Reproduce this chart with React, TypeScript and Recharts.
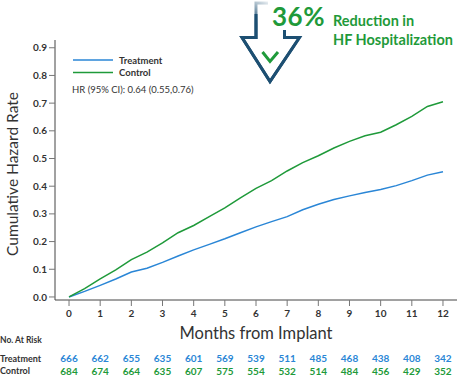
import React from 'react';
import { LineChart, Line, XAxis, YAxis } from 'recharts';

const months = [0, 0.5, 1, 1.5, 2, 2.5, 3, 3.5, 4, 4.5, 5, 5.5, 6, 6.5, 7, 7.5, 8, 8.5, 9, 9.5, 10, 10.5, 11, 11.5, 12];
const treatment = [0, 0.02, 0.042, 0.065, 0.09, 0.104, 0.125, 0.148, 0.17, 0.19, 0.21, 0.232, 0.253, 0.272, 0.29, 0.315, 0.335, 0.352, 0.365, 0.377, 0.388, 0.402, 0.42, 0.44, 0.452];
const control = [0, 0.03, 0.065, 0.098, 0.135, 0.162, 0.195, 0.232, 0.258, 0.29, 0.322, 0.358, 0.392, 0.42, 0.455, 0.485, 0.51, 0.538, 0.562, 0.582, 0.595, 0.622, 0.652, 0.688, 0.705];

const monthTicks = [0, 1, 2, 3, 4, 5, 6, 7, 8, 9, 10, 11, 12];
const yTicks = [0, 0.1, 0.2, 0.3, 0.4, 0.5, 0.6, 0.7, 0.8, 0.9];
const riskTreatment = [666, 662, 655, 635, 601, 569, 539, 511, 485, 468, 438, 408, 342];
const riskControl = [684, 674, 664, 635, 607, 575, 554, 532, 514, 484, 456, 429, 352];

const BLUE = '#2a86d6';
const GREEN = '#1f9a3a';
const NAVY = '#1d4f72';
const FONT = 'Lato, "Open Sans", sans-serif';

const data = months.map((m, i) => ({ month: m, treatment: treatment[i], control: control[i] }));

// month label plus the two at-risk counts underneath, all placed by the x scale
const MonthTick = (props: any) => {
  const { x, y, payload } = props;
  const idx = monthTicks.indexOf(payload.value);
  return (
    <g>
      <text x={x} y={y + 9} textAnchor="middle" fontSize={10} fontWeight={700} fill="#333" fontFamily={FONT}>
        {payload.value}
      </text>
      <text x={x} y={362} textAnchor="middle" fontSize={10} fontWeight={700} fill={BLUE} fontFamily={FONT}>
        {riskTreatment[idx]}
      </text>
      <text x={x} y={375} textAnchor="middle" fontSize={10} fontWeight={700} fill={GREEN} fontFamily={FONT}>
        {riskControl[idx]}
      </text>
    </g>
  );
};

export default function App() {
  return (
    <div style={{ position: 'absolute', left: 0, top: 0, width: 465, height: 376, background: '#fff' }}>
      <LineChart width={465} height={376} data={data} margin={{ top: 40, right: 8, left: 0, bottom: 56 }}>
        <XAxis
          dataKey="month"
          type="number"
          domain={[-0.45, 12.45]}
          ticks={monthTicks}
          height={20}
          tickSize={6}
          axisLine={{ stroke: '#444' }}
          tickLine={{ stroke: '#777' }}
          tick={<MonthTick />}
          interval={0}
          allowDataOverflow
        />
        <YAxis
          type="number"
          domain={[-0.011, 0.928]}
          ticks={yTicks}
          width={55}
          tickSize={6}
          tickMargin={2}
          axisLine={{ stroke: '#444' }}
          tickLine={{ stroke: '#777' }}
          tickFormatter={(v: number) => v.toFixed(1)}
          tick={{ fontSize: 10, fontWeight: 700, fill: '#333', fontFamily: FONT }}
          interval={0}
          allowDataOverflow
        />
        <Line type="linear" dataKey="treatment" name="Treatment" stroke={BLUE} strokeWidth={1.5} dot={false} isAnimationActive={false} />
        <Line type="linear" dataKey="control" name="Control" stroke={GREEN} strokeWidth={1.5} dot={false} isAnimationActive={false} />
      </LineChart>
      <svg width={465} height={376} style={{ position: 'absolute', left: 0, top: 0, pointerEvents: 'none' }}>
        <defs>
          <linearGradient id="fade" gradientUnits="userSpaceOnUse" x1={270} y1={0} x2={256} y2={24}>
            <stop offset="0" stopColor="#ffffff" />
            <stop offset="1" stopColor={NAVY} />
          </linearGradient>
        </defs>
        <line x1={73} x2={113} y1={60} y2={60} stroke={BLUE} strokeWidth={1.5} />
        <text x={119} y={63.5} fontSize={9.5} fontWeight={700} fill="#333" fontFamily={FONT}>Treatment</text>
        <line x1={73} x2={113} y1={72.5} y2={72.5} stroke={GREEN} strokeWidth={1.5} />
        <text x={119} y={76} fontSize={9.5} fontWeight={700} fill="#333" fontFamily={FONT}>Control</text>
        <text x={72} y={92.5} fontSize={9.5} fill="#333" fontFamily={FONT}>HR (95% CI): 0.64 (0.55,0.76)</text>
        <text x={12} y={174} transform="rotate(-90 12 174)" textAnchor="middle" dominantBaseline="central" fontSize={15.5} fill="#333" fontFamily={FONT}>
          Cumulative Hazard Rate
        </text>
        <text x={256} y={339} textAnchor="middle" fontSize={16.5} fill="#333" fontFamily={FONT}>Months from Implant</text>
        <text x={0} y={343} fontSize={8.5} fontWeight={700} fill="#333" fontFamily={FONT}>No. At Risk</text>
        <text x={0} y={361.5} fontSize={9} fontWeight={700} fill="#333" fontFamily={FONT}>Treatment</text>
        <text x={0} y={374} fontSize={9} fontWeight={700} fill="#333" fontFamily={FONT}>Control</text>
        <path d="M 268 3 H 256 V 37.5 H 242 L 270 81.5 L 299.5 37.5 H 284.5 V 30" fill="none" stroke="url(#fade)" strokeWidth={3} strokeLinejoin="miter" />
        <path d="M 256 14 V 37.5 H 242 L 270 81.5 L 299.5 37.5 H 284.5 V 30" fill="none" stroke={NAVY} strokeWidth={3} strokeLinejoin="miter" />
        <path d="M 262.5 52 L 270 61.5 L 278 52" fill="none" stroke={GREEN} strokeWidth={3} />
        <text x={272} y={26} fontSize={26} fontWeight={700} fill={GREEN} fontFamily={FONT} letterSpacing={0.5}>36%</text>
        <text x={333} y={26} fontSize={14.5} fontWeight={700} fill={GREEN} fontFamily={FONT}>Reduction in</text>
        <text x={333} y={44.5} fontSize={14.5} fontWeight={700} fill={GREEN} fontFamily={FONT}>HF Hospitalization</text>
      </svg>
    </div>
  );
}
